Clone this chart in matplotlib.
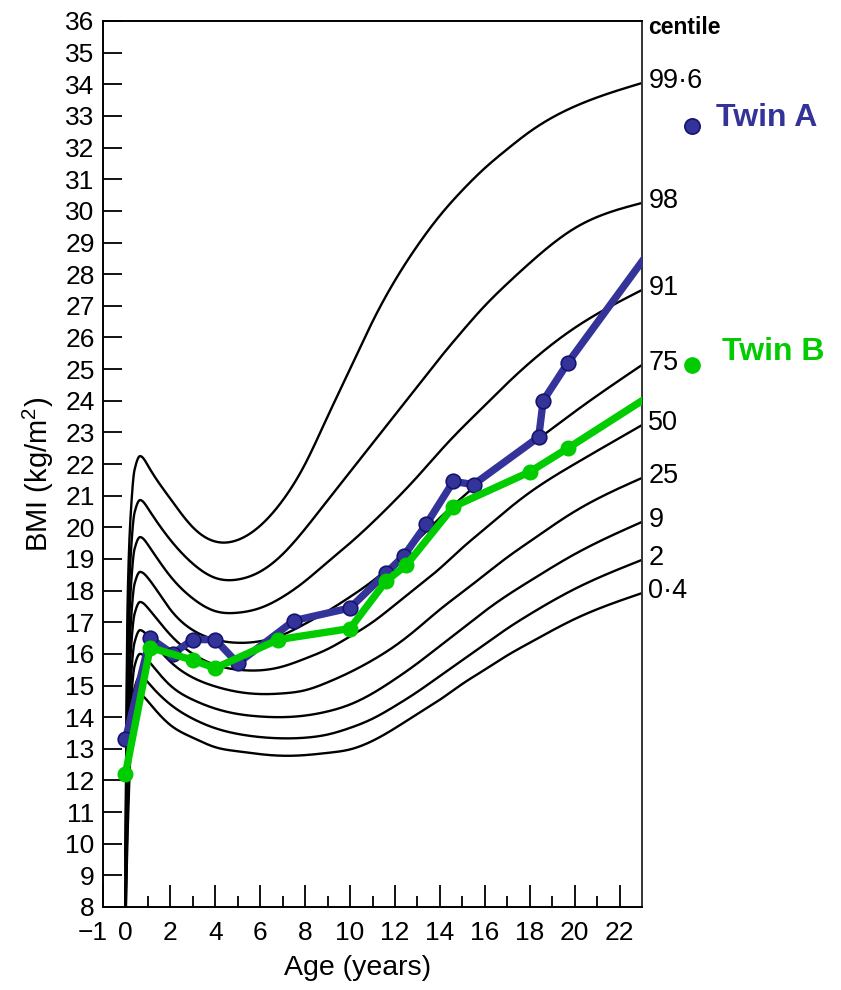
import numpy as np
import matplotlib
matplotlib.use("Agg")
import matplotlib.pyplot as plt
from matplotlib.lines import Line2D
from matplotlib.transforms import ScaledTranslation

plt.rcParams['font.family'] = ['Liberation Sans', 'DejaVu Sans']
plt.rcParams['mathtext.default'] = 'regular'

# ---------------- data ----------------
ages = [0, 0.1, 0.25, 0.4, 0.65, 1, 2, 3, 4, 5, 6, 7, 8, 9, 10, 11, 12, 13, 14, 15, 16, 17, 18, 20, 23]

centile_names = ['99·6', '98', '91', '75', '50', '25', '9', '2', '0·4']
c996 = [9.6, 17.8, 20.6, 21.8, 22.25, 21.95, 20.9, 20.0, 19.55, 19.6, 20.05, 20.85, 22.0, 23.5, 25.0, 26.5, 27.8, 28.9, 29.85, 30.65, 31.35, 31.95, 32.5, 33.3, 34.04]
c98 = [9.3, 16.6, 19.3, 20.45, 20.86, 20.6, 19.6, 18.85, 18.4, 18.35, 18.6, 19.15, 19.95, 20.85, 21.75, 22.65, 23.55, 24.45, 25.35, 26.2, 27.0, 27.7, 28.35, 29.45, 30.25]
c91 = [9.0, 15.5, 18.2, 19.3, 19.69, 19.45, 18.45, 17.75, 17.35, 17.3, 17.45, 17.8, 18.3, 18.9, 19.5, 20.15, 20.85, 21.6, 22.4, 23.15, 23.85, 24.55, 25.2, 26.3, 27.5]
c75 = [8.7, 14.5, 17.1, 18.2, 18.59, 18.4, 17.4, 16.75, 16.45, 16.35, 16.4, 16.6, 16.95, 17.35, 17.8, 18.3, 18.9, 19.6, 20.3, 20.95, 21.55, 22.1, 22.6, 23.65, 25.13]
c50 = [8.4, 13.6, 16.2, 17.25, 17.64, 17.45, 16.6, 16.0, 15.65, 15.5, 15.48, 15.6, 15.85, 16.15, 16.55, 17.0, 17.55, 18.12, 18.7, 19.35, 19.95, 20.55, 21.1, 22.0, 23.23]
c25 = [8.1, 12.7, 15.3, 16.35, 16.75, 16.55, 15.75, 15.25, 14.97, 14.8, 14.73, 14.75, 14.85, 15.1, 15.42, 15.8, 16.25, 16.8, 17.4, 17.95, 18.5, 19.05, 19.55, 20.5, 21.56]
c9 = [7.8, 11.9, 14.5, 15.6, 16.0, 15.8, 15.0, 14.55, 14.27, 14.1, 14.02, 14.0, 14.05, 14.18, 14.4, 14.75, 15.2, 15.7, 16.25, 16.8, 17.35, 17.85, 18.3, 19.15, 20.17]
c2 = [7.5, 11.1, 13.8, 14.9, 15.3, 15.1, 14.4, 13.95, 13.65, 13.47, 13.37, 13.33, 13.35, 13.45, 13.66, 13.95, 14.35, 14.8, 15.3, 15.8, 16.3, 16.8, 17.25, 18.05, 18.97]
c04 = [7.2, 10.4, 13.2, 14.3, 14.7, 14.5, 13.75, 13.35, 13.05, 12.92, 12.83, 12.78, 12.8, 12.87, 12.98, 13.25, 13.65, 14.1, 14.55, 15.05, 15.5, 15.95, 16.35, 17.1, 17.92]
centiles = [c996, c98, c91, c75, c50, c25, c9, c2, c04]

twinA_age = [0, 1.1, 2.1, 3.0, 4.0, 5.0, 7.5, 10.0, 11.6, 12.4, 13.4, 14.6, 15.5, 18.4, 18.6, 19.7, 23.0]
twinA_bmi = [13.3, 16.5, 16.0, 16.45, 16.45, 15.7, 17.05, 17.45, 18.55, 19.1, 20.1, 21.45, 21.35, 22.85, 24.0, 25.2, 28.4]
twinB_age = [0, 1.1, 3.0, 4.0, 6.8, 10.0, 11.6, 12.5, 14.6, 18.0, 19.7, 23.0]
twinB_bmi = [12.2, 16.2, 15.8, 15.55, 16.45, 16.8, 18.3, 18.8, 20.65, 21.75, 22.5, 24.0]

xtick_vals = [-1, 0, 2, 4, 6, 8, 10, 12, 14, 16, 18, 20, 22]
ytick_vals = list(range(8, 37))

BLUE = '#333399'
BLUE_EDGE = '#141470'
GREEN = '#00cc00'
PEAK_INDEX = 4


def pchip(x, y, xn):
    x = np.asarray(x, float); y = np.asarray(y, float)
    h = np.diff(x); d = np.diff(y) / h
    n = len(x); m = np.zeros(n)
    for k in range(1, n - 1):
        if d[k - 1] * d[k] > 0:
            w1 = 2 * h[k] + h[k - 1]; w2 = h[k] + 2 * h[k - 1]
            m[k] = (w1 + w2) / (w1 / d[k - 1] + w2 / d[k])
    def endslope(h0, h1, d0, d1):
        s = ((2 * h0 + h1) * d0 - h0 * d1) / (h0 + h1)
        if np.sign(s) != np.sign(d0):
            s = 0.0
        elif np.sign(d0) != np.sign(d1) and abs(s) > abs(3 * d0):
            s = 3 * d0
        return s
    m[0] = endslope(h[0], h[1], d[0], d[1])
    m[-1] = endslope(h[-1], h[-2], d[-1], d[-2])
    idx = np.clip(np.searchsorted(x, xn) - 1, 0, n - 2)
    t = (xn - x[idx]) / h[idx]
    h00 = 2 * t**3 - 3 * t**2 + 1; h10 = t**3 - 2 * t**2 + t
    h01 = -2 * t**3 + 3 * t**2; h11 = t**3 - t**2
    return h00 * y[idx] + h10 * h[idx] * m[idx] + h01 * y[idx + 1] + h11 * h[idx] * m[idx + 1]


def clamped_natural_spline(x, y, xn, s0=0.0):
    x = np.asarray(x, float); y = np.asarray(y, float)
    n = len(x); h = np.diff(x); d = np.diff(y) / h
    A = np.zeros((n, n)); b = np.zeros(n)
    A[0, 0] = 2 * h[0]; A[0, 1] = h[0]; b[0] = 6 * (d[0] - s0)
    for i in range(1, n - 1):
        A[i, i - 1] = h[i - 1]; A[i, i] = 2 * (h[i - 1] + h[i]); A[i, i + 1] = h[i]
        b[i] = 6 * (d[i] - d[i - 1])
    A[-1, -1] = 1.0; b[-1] = 0.0
    M = np.linalg.solve(A, b)
    idx = np.clip(np.searchsorted(x, xn) - 1, 0, n - 2)
    hi = h[idx]; xl = x[idx]; xr = x[idx + 1]
    return (M[idx] * (xr - xn)**3 / (6 * hi) + M[idx + 1] * (xn - xl)**3 / (6 * hi)
            + (y[idx] / hi - M[idx] * hi / 6) * (xr - xn)
            + (y[idx + 1] / hi - M[idx + 1] * hi / 6) * (xn - xl))


def centile_curve(vals):
    xa = np.asarray(ages, float)
    x1 = np.linspace(0, xa[PEAK_INDEX], 300)
    y1 = pchip(ages[:PEAK_INDEX + 2], vals[:PEAK_INDEX + 2], x1)
    x2 = np.linspace(xa[PEAK_INDEX], 23, 1500)
    y2 = clamped_natural_spline(ages[PEAK_INDEX:], vals[PEAK_INDEX:], x2)
    return np.concatenate([x1, x2[1:]]), np.concatenate([y1, y2[1:]])


fig = plt.figure(figsize=(8.41, 9.9), dpi=100)
ax = fig.add_axes([103 / 841, 1 - 907 / 990, 539 / 841, 886 / 990])
ax.set_xlim(-1, 23)
ax.set_ylim(8, 36)

for name, vals in zip(centile_names, centiles):
    cx, cy = centile_curve(vals)
    ax.plot(cx, cy, color='black', lw=1.7, zorder=2)
    ax.annotate(name, xy=(23, vals[-1]), xytext=(4.5, 1.5), textcoords='offset points',
                ha='left', va='center', fontsize=19.5, annotation_clip=False)

nA = len(twinA_age)
ax.plot(twinA_age, twinA_bmi, color=BLUE, lw=5.3, marker='o', ms=10.5,
        mfc=BLUE, mec=BLUE_EDGE, mew=1.2, markevery=list(range(nA - 1)), zorder=3,
        solid_joinstyle='round')
nB = len(twinB_age)
ax.plot(twinB_age, twinB_bmi, color=GREEN, lw=5.3, marker='o', ms=10.5,
        mfc=GREEN, mec=GREEN, markevery=list(range(nB - 1)), zorder=4,
        solid_joinstyle='round')

# ticks
ax.set_xticks(xtick_vals)
ax.set_xticklabels([f'{v:d}'.replace('-', '\u2212') for v in xtick_vals])
ax.set_xticks(list(range(1, 23, 2)), minor=True)
ax.set_yticks(ytick_vals)
ax.tick_params(axis='x', which='major', direction='in', length=15.5, width=1.3,
               labelsize=19, pad=10, top=False)
ax.tick_params(axis='x', which='minor', direction='in', length=8, width=1.3, top=False)
ax.tick_params(axis='y', which='major', direction='in', length=13.5, width=1.3,
               labelsize=19, pad=6, right=False)
for sp in ax.spines.values():
    sp.set_linewidth(1.4)
ax.spines['right'].set_color('#333333')

lbl0 = ax.get_xticklabels()[0]
lbl0.set_transform(lbl0.get_transform() + ScaledTranslation(-10 / 100, 0, fig.dpi_scale_trans))

ax.set_xlabel('Age (years)', fontsize=20.5)
ax.xaxis.set_label_coords((358 - 103) / 539, -(968 - 907) / 886, transform=ax.transAxes)
ax.xaxis.label.set_va('center')
ax.set_ylabel('BMI (kg/m$^2$)', fontsize=21)
ax.yaxis.set_label_coords(-(103 - 38) / 539, (907 - 474) / 886)
ax.yaxis.label.set_va('center')

fig.text(648 / 841, 1 - 27 / 990, 'centile', fontsize=16.5, fontweight='bold', va='center', ha='left')

fig.add_artist(Line2D([692 / 841], [1 - 126 / 990], marker='o', ms=11, mfc=BLUE, mec=BLUE_EDGE,
                      mew=1.2, transform=fig.transFigure))
fig.text(716 / 841, 1 - 118 / 990, 'Twin A', fontsize=23, fontweight='bold', color=BLUE,
         va='center', ha='left')
fig.add_artist(Line2D([692 / 841], [1 - 365 / 990], marker='o', ms=11, mfc=GREEN, mec=GREEN,
                      transform=fig.transFigure))
fig.text(722 / 841, 1 - 352 / 990, 'Twin B', fontsize=23, fontweight='bold', color=GREEN,
         va='center', ha='left')

fig.savefig('out.png', dpi=100, facecolor='white')
